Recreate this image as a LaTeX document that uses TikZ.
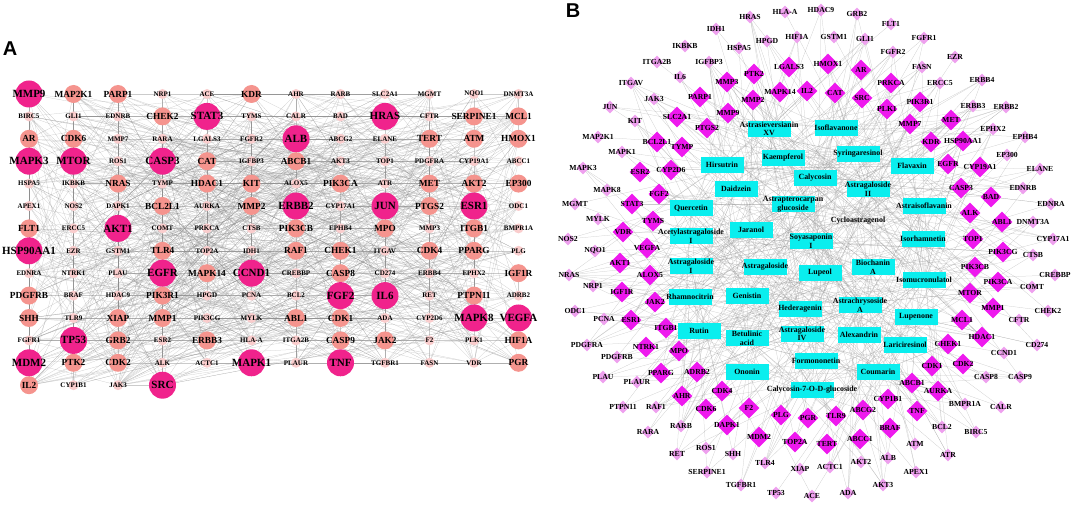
\documentclass[tikz,border=0pt]{standalone}
\usepackage{fontspec}
\setmainfont{Liberation Serif}
\newfontfamily\panelfont{Liberation Sans}
\usetikzlibrary{shapes.geometric,backgrounds}
\definecolor{abig}{RGB}{240,35,140}
\definecolor{amid}{RGB}{245,148,142}
\definecolor{alow}{RGB}{250,205,205}
\definecolor{bbig}{RGB}{238,25,238}
\definecolor{blow}{RGB}{238,160,238}
\definecolor{cyanbox}{RGB}{10,238,238}
\tikzset{
  szA3/.style={circle, fill=abig, minimum size=27pt, inner sep=0pt},
  szA2/.style={circle, fill=amid, minimum size=18pt, inner sep=0pt},
  szA1/.style={circle, fill=alow, minimum size=10pt, inner sep=0pt},
  fA3/.style={inner sep=0pt, font=\bfseries\fontsize{11}{12}\selectfont},
  fA2/.style={inner sep=0pt, font=\bfseries\fontsize{9.3}{10}\selectfont},
  fA1/.style={inner sep=0pt, font=\bfseries\fontsize{7}{8}\selectfont},
  szB2/.style={diamond, aspect=1, fill=bbig, minimum size=21pt, inner sep=0pt},
  szB1/.style={diamond, aspect=1, fill=blow, minimum size=13pt, inner sep=0pt},
  blab/.style={inner sep=0pt, font=\bfseries\fontsize{7.7}{8.5}\selectfont},
  cbox/.style={rectangle, fill=cyanbox, minimum width=43pt, minimum height=15.5pt, inner sep=0pt},
  cnone/.style={rectangle, minimum width=1pt, minimum height=1pt, inner sep=0pt},
  clab/.style={inner sep=0pt, align=center, font=\bfseries\fontsize{7.9}{8.6}\selectfont},
  edgeA/.style={draw=black!45, line width=0.25pt, opacity=0.45},
  edgeB/.style={draw=black!45, line width=0.25pt, opacity=0.45},
  panel/.style={inner sep=0pt, font=\panelfont\bfseries\fontsize{20}{20}\selectfont}
}
\begin{document}
\begin{tikzpicture}[x=1pt,y=-1pt]
\useasboundingbox (0,0) rectangle (1072,505);
\node[panel] (pA) at (10,49) {A};
\node[panel] (pB) at (573,11) {B};
% ---------------- Panel A ----------------
\foreach \lab/\sz [count=\i from 0] in {
MMP9/3, MAP2K1/2, PARP1/2, NRP1/1, ACE/1, KDR/2, AHR/1, RARB/1, SLC2A1/1, MGMT/1, NQO1/1, DNMT3A/1,
BIRC5/1, GLI1/1, EDNRB/1, CHEK2/2, STAT3/3, TYMS/1, CALR/1, BAD/1, HRAS/3, CFTR/1, SERPINE1/2, MCL1/2,
AR/2, CDK6/2, MMP7/1, RARA/1, LGALS3/1, FGFR2/1, ALB/3, ABCG2/1, ELANE/1, TERT/2, ATM/2, HMOX1/2,
MAPK3/3, MTOR/3, ROS1/1, CASP3/3, CAT/2, IGFBP3/1, ABCB1/2, AKT3/1, TOP1/1, PDGFRA/1, CYP19A1/1, ABCC1/1,
HSPA5/1, IKBKB/1, NRAS/2, TYMP/1, HDAC1/2, KIT/2, ALOX5/1, PIK3CA/2, ATR/1, MET/2, AKT2/2, EP300/2,
APEX1/1, NOS2/1, DAPK1/1, BCL2L1/2, AURKA/1, MMP2/2, ERBB2/3, CYP17A1/1, JUN/3, PTGS2/2, ESR1/3, ODC1/1,
FLT1/2, ERCC5/1, AKT1/3, COMT/1, PRKCA/1, CTSB/1, PIK3CB/2, EPHB4/1, MPO/2, MMP3/1, ITGB1/2, BMPR1A/1,
HSP90AA1/3, EZR/1, GSTM1/1, TLR4/2, TOP2A/1, IDH1/1, RAF1/2, CHEK1/2, ITGAV/1, CDK4/2, PPARG/2, PLG/1,
EDNRA/1, NTRK1/1, PLAU/1, EGFR/3, MAPK14/2, CCND1/3, CREBBP/1, CASP8/2, CD274/1, ERBB4/1, EPHX2/1, IGF1R/2,
PDGFRB/2, BRAF/1, HDAC9/1, PIK3R1/2, HPGD/1, PCNA/1, BCL2/1, FGF2/3, IL6/3, RET/1, PTPN11/2, ADRB2/1,
SHH/2, TLR9/1, XIAP/2, MMP1/2, PIK3CG/1, MYLK/1, ABL1/2, CDK1/2, ADA/1, CYP2D6/1, MAPK8/3, VEGFA/3,
FGFR1/1, TP53/3, GRB2/2, ESR2/1, ERBB3/2, HLA-A/1, ITGA2B/1, CASP9/2, JAK2/2, F2/1, PLK1/1, HIF1A/2,
MDM2/3, PTK2/2, CDK2/2, ALK/1, ACTC1/1, MAPK1/3, PLAUR/1, TNF/3, TGFBR1/1, FASN/1, VDR/1, PGR/2,
IL2/2, CYP1B1/1, JAK3/1, SRC/3}{
  \pgfmathsetmacro\xx{29+44.5*mod(\i,12)}
  \pgfmathsetmacro\yy{94+22.4*floor(\i/12)}
  \node[szA\sz] (a\i) at (\xx,\yy) {};
  \node[fA\sz] (la\i) at (a\i) {\lab};
}
\pgfmathsetseed{11}
\begin{scope}[on background layer]
\foreach \k in {1,...,900}{
  \pgfmathrandominteger{\p}{0}{159}
  \pgfmathrandominteger{\q}{0}{159}
  \draw[edgeA] (a\p.center) -- (a\q.center);
}
\end{scope}
% ---------------- Panel B ----------------
\foreach \lab/\xx/\yy/\sz [count=\i] in {
HRAS/750/17/1, HLA-A/785/12/1, HDAC9/821/10/1, GRB2/857/14/1, IDH1/716/29/1, HPGD/767/41/1, HIF1A/797/37/1, GSTM1/834/37/1, GLI1/865/39/1, FLT1/891/24/1,
FGFR1/924/38/1, HSPA5/739/48/1, IKBKB/685/46/1, FGFR2/893/52/1, EZR/955/57/1, ITGA2B/657/62/1, IGFBP3/709/62/1, FASN/922/67/1, IL6/680/77/1, ERCC5/940/83/1,
ERBB4/982/80/1, ITGAV/631/83/1, JAK3/654/99/1, JUN/610/107/1, KIT/635/121/1, ERBB3/973/106/1, ERBB2/1006/107/1, MAP2K1/598/137/1, EPHX2/993/129/1, EPHB4/1025/137/1,
MAPK1/622/152/1, MAPK3/583/168/1, EP300/1007/155/1, ELANE/1040/169/1, MAPK8/607/190/1, MGMT/575/204/1, EDNRB/1023/188/1, EDNRA/1051/204/1, MYLK/598/219/1, NOS2/568/239/1,
DNMT3A/1033/222/1, NQO1/595/251/1, CYP17A1/1053/239/1, CTSB/1033/255/1, NRAS/569/275/1, NRP1/593/286/1, CREBBP/1055/275/1, COMT/1032/287/1, ODC1/575/311/1, PCNA/604/319/1,
CHEK2/1048/311/1, CFTR/1019/320/1, PDGFRA/587/345/1, PDGFRB/617/357/1, CD274/1037/345/1, CCND1/1004/353/1, PLAU/603/377/1, PLAUR/637/382/1, CASP8/986/377/1, CASP9/1020/377/1,
PTPN11/623/407/1, RAF1/656/407/1, BMPR1A/965/404/1, CALR/1001/407/1, RARA/648/432/1, RARB/681/426/1, BCL2/942/427/1, BIRC5/976/432/1, RET/677/454/1, ROS1/706/448/1,
SHH/733/454/1, ATM/915/444/1, ATR/948/455/1, SERPINE1/707/472/1, TLR4/765/463/1, TGFBR1/741/485/1, TP53/776/493/1, XIAP/800/469/1, ACTC1/830/467/1, AKT2/861/462/1,
ALB/888/458/1, APEX1/916/472/1, ACE/812/496/1, ADA/848/493/1, AKT3/883/485/1,
LGALS3/789/67/2, PTK2/754/74/2, MMP3/727/82/2, HMOX1/828/64/2, AR/861/70/2, PRKCA/891/83/2, IL2/807/91/2, CAT/835/93/2, SRC/862/98/2, MAPK14/780/92/2,
PARP1/700/97/2, MMP2/753/100/2, SLC2A1/677/117/2, MMP9/728/113/2, PTGS2/707/128/2, BCL2L1/657/142/2, TYMP/682/147/2, PIK3R1/920/102/2, PLK1/887/109/2, MET/951/120/2,
MMP7/910/124/2, KDR/931/142/2, HSP90AA1/963/141/2, EGFR/948/164/2, CYP19A1/980/167/2, ESR2/640/172/2, CYP2D6/671/170/2, FGF2/659/194/2, STAT3/632/204/2, TYMS/653/221/2,
VDR/623/232/2, VEGFA/647/248/2, AKT1/620/263/2, ALOX5/650/275/2, IGF1R/622/292/2, JAK2/655/302/2, ESR1/631/320/2, ITGB1/666/328/2, CASP3/961/188/2, BAD/991/197/2,
ALK/970/213/2, ABL1/1002/222/2, TOP1/973/239/2, PIK3CG/1003/252/2, PIK3CB/975/267/2, PIK3CA/998/282/2, MTOR/970/293/2, MMP1/993/308/2, MCL1/962/320/2, HDAC1/982/337/2,
CHEK1/948/344/2, CDK1/932/366/2, CDK2/963/364/2, ABCB1/912/383/2, AURKA/938/391/2, CYP1B1/888/399/2, ABCG2/863/410/2, TNF/917/411/2, BRAF/890/428/2, ABCC1/860/439/2,
TLR9/836/416/2, PGR/808/418/2, TERT/827/444/2, NTRK1/646/347/2, MPO/679/351/2, PPARG/661/373/2, ADRB2/697/372/2, AHR/682/396/2, CDK4/722/391/2, CDK6/706/409/2,
F2/749/408/2, DAPK1/727/425/2, PLG/781/415/2, MDM2/759/437/2, TOP2A/795/442/2}{
  \node[szB\sz] (b\i) at (\xx,\yy) {};
  \node[blab] (lb\i) at (b\i) {\lab};
}
\foreach \lab/\xx/\yy/\st [count=\i] in {
{Astrasieversianin\\XV}/769/129/cbox, Isoflavanone/836/128/cbox, Hirsutrin/722/165/cbox, Kaempferol/783/158/cbox,
Syringaresinol/858/154/cbox, Calycosin/815/178/cbox, Flavaxin/912/166/cbox, Daidzein/736/189/cbox,
{Astragaloside\\II}/868/189/cbox, Quercetin/691/208/cbox, {Astrapterocarpan\\glucoside}/793/204/cbox, Astraisoflavanin/924/206/cbox,
Cycloastragenol/858/221/cnone, Jaranol/751/230/cbox, {Soyasaponin\\I}/811/241/cbox, Isorhamnetin/923/239/cbox,
{Acetylastragaloside\\I}/691/236/cbox, {Astragaloside\\I}/691/266/cbox, Astragaloside/765/267/cbox, Lupeol/820/273/cbox,
{Biochanin\\A}/873/267/cbox, Isomucronulatol/924/280/cbox, Rhamnocitrin/690/297/cbox, Genistin/747/296/cbox,
Hederagenin/800/309/cbox, {Astrachrysoside\\A}/860/305/cbox, Lupenone/916/317/cbox, Rutin/699/331/cbox,
{Betulinic\\acid}/747/338/cbox, {Astragaloside\\IV}/802/334/cbox, Alexandrin/859/335/cbox, Lariciresinol/905/345/cbox,
Formononetin/816/361/cbox, Ononin/747/372/cbox, Coumarin/878/372/cbox, Calycosin-7-O-D-glucoside/812/390/cbox}{
  \node[\st] (c\i) at (\xx,\yy) {};
  \node[clab] (lc\i) at (c\i) {\lab};
}
\pgfmathsetseed{5}
\begin{scope}[on background layer]
\foreach \k in {1,...,520}{
  \pgfmathrandominteger{\p}{1}{36}
  \pgfmathrandominteger{\q}{1}{160}
  \draw[edgeB] (c\p.center) -- (b\q.center);
}
\end{scope}
\end{tikzpicture}
\end{document}
